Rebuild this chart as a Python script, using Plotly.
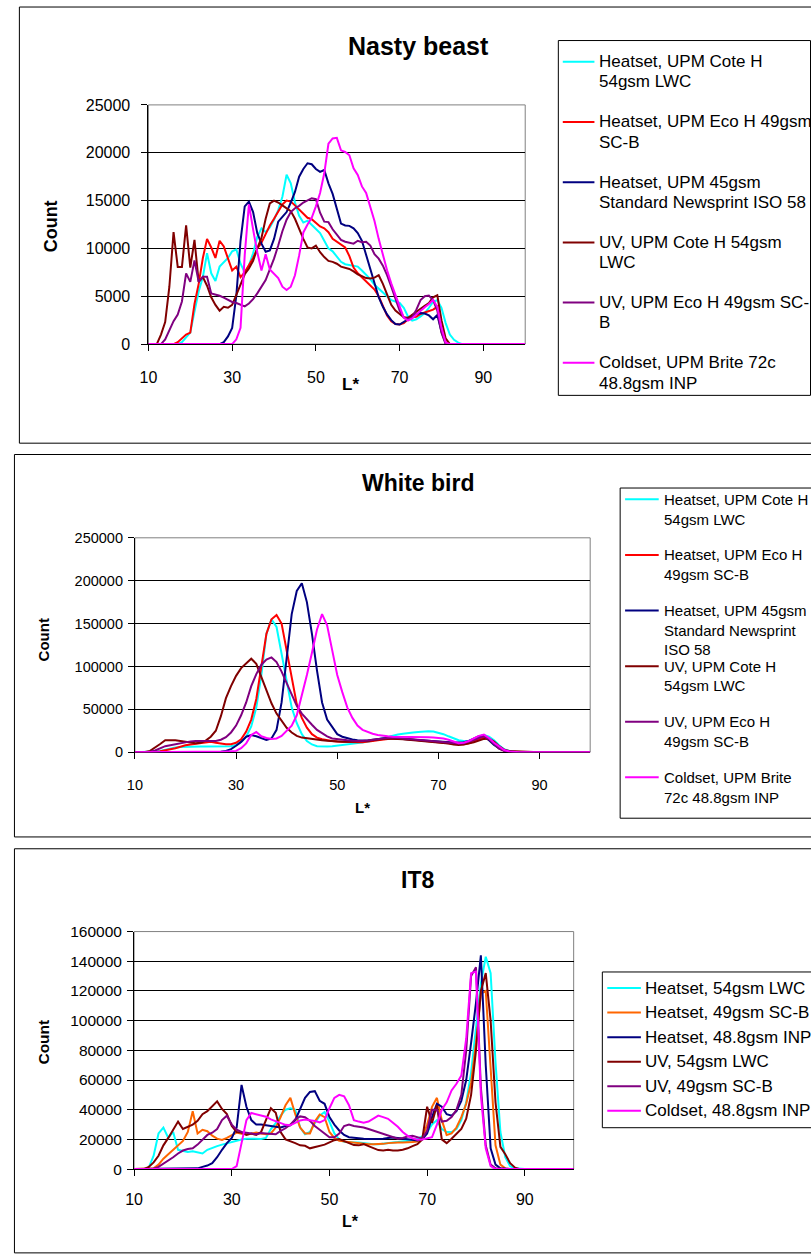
import plotly.graph_objects as go

# ---------------------------------------------------------------------------
# Data: pixel-count histograms of L* (10..100) for three test images
# ---------------------------------------------------------------------------
L_STAR = list(range(10, 101))

SERIES_NAMES_A = [
    "Heatset, UPM Cote H 54gsm LWC",
    "Heatset, UPM Eco H 49gsm SC-B",
    "Heatset, UPM 45gsm Standard Newsprint ISO 58",
    "UV, UPM Cote H 54gsm LWC",
    "UV, UPM Eco H 49gsm SC-B",
    "Coldset, UPM Brite 72c 48.8gsm INP",
]
SERIES_NAMES_IT8 = [
    "Heatset, 54gsm LWC",
    "Heatset, 49gsm SC-B",
    "Heatset, 48.8gsm INP",
    "UV, 54gsm LWC",
    "UV, 49gsm SC-B",
    "Coldset, 48.8gsm INP",
]

# --- Nasty beast -----------------------------------------------------------
nb_heat_cote = [
    0, 0, 0, 0, 0, 0, 0, 0, 200, 700,
    1200, 3400, 5500, 7000, 9500, 7400, 6600, 8100, 8500, 9000,
    9700, 9900, 8400, 7500, 8200, 9500, 11200, 12100, 11700, 12200,
    13000, 14000, 15400, 17700, 16800, 14800, 13400, 12700, 12900, 12500,
    12000, 11600, 10800, 10000, 9700, 9100, 8600, 8350, 8250, 8200,
    8100, 7700, 7300, 6800, 6200, 5800, 5300, 4900, 4600, 4460,
    4300, 3800, 2900, 2450, 2600, 2900, 3250, 3800, 4400, 4600,
    3800, 2200, 1000, 450, 150, 0, 0, 0, 0, 0,
    0, 0, 0, 0, 0, 0, 0, 0, 0, 0,
    0,
]
nb_heat_eco = [
    0, 0, 0, 0, 0, 0, 0, 200, 600, 1000,
    1200, 4200, 6300, 9000, 11000, 10100, 9000, 10800, 10200, 8900,
    7700, 8100, 7000, 7500, 8300, 9000, 10000, 10600, 11500, 12400,
    13100, 13900, 14600, 15000, 14900, 14500, 14100, 13600, 13200, 13050,
    12700, 12300, 12100, 11700, 11000, 10700, 10400, 10100, 9200, 8000,
    7400, 7000, 6600, 6100, 5700, 5000, 4000, 3000, 2400, 2100,
    2060, 2200, 2600, 2800, 2850, 3150, 3300, 3430, 3600, 3900,
    1500, 150, 0, 0, 0, 0, 0, 0, 0, 0,
    0, 0, 0, 0, 0, 0, 0, 0, 0, 0,
    0,
]
nb_heat_news = [
    0, 0, 0, 0, 0, 0, 0, 0, 0, 0,
    0, 0, 0, 0, 0, 0, 0, 0, 200, 800,
    1700, 5100, 10800, 14400, 14900, 13800, 11600, 10500, 9650, 9800,
    11000, 12800, 13300, 13800, 14800, 15900, 17500, 18300, 18900, 18800,
    18300, 18000, 18200, 16800, 15700, 14100, 12600, 12400, 12360, 12100,
    11600, 10800, 9300, 8000, 6300, 4900, 3900, 3100, 2500, 2100,
    2050, 2300, 2600, 3000, 3150, 3250, 3200, 3000, 2600, 3050,
    1300, 100, 0, 0, 0, 0, 0, 0, 0, 0,
    0, 0, 0, 0, 0, 0, 0, 0, 0, 0,
    0,
]
nb_uv_cote = [
    0, 0, 0, 1000, 2300, 6000, 11700, 8070, 8070, 12400,
    8000, 10900, 6500, 7000, 6100, 4900, 4100, 3500, 3900, 3800,
    4100, 5150, 6300, 7300, 7900, 8700, 10000, 11100, 13100, 14700,
    15000, 14800, 14500, 14200, 13900, 13100, 12000, 11000, 10100, 10000,
    10300, 9600, 9100, 8700, 8600, 8400, 8100, 7950, 7850, 7600,
    7300, 7100, 6900, 6870, 6950, 7200, 6300, 5200, 4100, 3500,
    3100, 2800, 2750, 3100, 3450, 3700, 4000, 4300, 4900, 5100,
    2500, 600, 0, 0, 0, 0, 0, 0, 0, 0,
    0, 0, 0, 0, 0, 0, 0, 0, 0, 0,
    0,
]
nb_uv_eco = [
    0, 0, 0, 0, 500, 1400, 2400, 3090, 4460, 7400,
    6500, 8750, 6500, 7040, 7040, 5300, 5200, 5050, 4850, 4600,
    4400, 4290, 4100, 3950, 4250, 4700, 5300, 5950, 6700, 7800,
    8930, 10300, 11800, 13000, 13800, 14200, 14450, 14800, 15050, 15250,
    15150, 13730, 12800, 12750, 12000, 11500, 10900, 10700, 10600, 10500,
    10800, 10650, 10700, 10300, 9400, 8930, 8200, 7200, 6000, 4800,
    3500, 2800, 2600, 2800, 3600, 4600, 5000, 5080, 4600, 3500,
    1200, 0, 0, 0, 0, 0, 0, 0, 0, 0,
    0, 0, 0, 0, 0, 0, 0, 0, 0, 0,
    0,
]
nb_cold_brite = [
    0, 0, 0, 0, 0, 0, 0, 0, 0, 0,
    0, 0, 0, 0, 0, 0, 0, 0, 0, 0,
    0, 500, 1700, 9300, 14600, 12000, 9600, 7700, 9400, 7800,
    7400, 6900, 6000, 5660, 6000, 7200, 9270, 11670, 12500, 13200,
    14400, 15800, 17850, 20940, 21500, 21560, 20250, 20080, 19740, 18370,
    17680, 16480, 15790, 14250, 12870, 11000, 9270, 7720, 6350, 5150,
    3950, 2750, 2470, 2680, 3090, 3500, 3850, 4190, 4635, 3900,
    1700, 170, 0, 0, 0, 0, 0, 0, 0, 0,
    0, 0, 0, 0, 0, 0, 0, 0, 0, 0,
    0,
]

# --- White bird ------------------------------------------------------------
wb_heat_cote = [
    0, 0, 0, 0, 800, 1500, 3000, 4500, 5400, 6000,
    6300, 6500, 6500, 6500, 6500, 6500, 6400, 6500, 6500, 7000,
    8400, 12000, 18000, 30000, 52000, 90000, 138000, 155000, 146000, 115000,
    80000, 52000, 34000, 21000, 13000, 9000, 7000, 6500, 6500, 6800,
    7500, 8200, 8800, 9500, 10200, 11000, 12000, 13500, 15000, 16500,
    18000, 19500, 20500, 21500, 22500, 23000, 23500, 24000, 24500, 24000,
    22500, 21000, 18500, 16000, 14000, 13000, 13000, 15000, 18500, 20000,
    18000, 14000, 8000, 3500, 1500, 500, 0, 0, 0, 0,
    0, 0, 0, 0, 0, 0, 0, 0, 0, 0,
    0,
]
wb_heat_eco = [
    0, 0, 0, 0, 0, 1000, 2500, 3500, 4600, 6500,
    8000, 9000, 10000, 10500, 11500, 12200, 11000, 10000, 9300, 9300,
    11000, 15000, 24000, 38000, 62000, 100000, 138000, 155000, 160000, 150000,
    118000, 84000, 56000, 40000, 28500, 21000, 17000, 15000, 13800, 13000,
    12400, 12000, 11800, 11600, 11500, 11500, 12000, 13000, 14000, 15000,
    15500, 16000, 16000, 15500, 15000, 14500, 14000, 13500, 13000, 12500,
    12000, 11500, 10500, 9500, 9000, 9200, 10500, 12500, 15000, 17000,
    14500, 9000, 4500, 1500, 500, 0, 0, 0, 0, 0,
    0, 0, 0, 0, 0, 0, 0, 0, 0, 0,
    0,
]
wb_heat_news = [
    0, 0, 0, 0, 0, 0, 0, 0, 0, 0,
    0, 0, 0, 0, 0, 0, 0, 500, 1500, 3500,
    7500, 12000, 18000, 20000, 18500, 16000, 14200, 16000, 26000, 58000,
    110000, 161000, 188000, 197000, 175000, 138000, 95000, 58000, 38000, 29000,
    21000, 18000, 16000, 14800, 14000, 13500, 13500, 14500, 15500, 16000,
    16500, 16500, 16000, 15500, 15000, 14500, 14000, 13500, 13000, 12500,
    12000, 11800, 11500, 11300, 11200, 11500, 13000, 15500, 18500, 19500,
    14000, 8500, 4500, 2000, 800, 0, 0, 0, 0, 0,
    0, 0, 0, 0, 0, 0, 0, 0, 0, 0,
    0,
]
wb_uv_cote = [
    0, 0, 300, 1500, 5000, 9500, 14000, 14200, 13800, 13000,
    12000, 11200, 10500, 11000, 13500, 18000, 25000, 42000, 63000, 77000,
    89000, 98000, 104000, 109000, 103000, 88000, 72000, 57000, 45000, 36000,
    28500, 23000, 19000, 17000, 16000, 15000, 14300, 13800, 13300, 12800,
    12300, 12200, 12200, 12200, 12200, 12200, 13000, 14000, 15000, 15500,
    16000, 16000, 15500, 15000, 14500, 14000, 13500, 13000, 12500, 12000,
    11500, 11000, 10000, 9000, 8500, 9000, 10000, 11500, 13500, 15500,
    16000, 12500, 7000, 3000, 1500, 1200, 800, 400, 0, 0,
    0, 0, 0, 0, 0, 0, 0, 0, 0, 0,
    0,
]
wb_uv_eco = [
    0, 0, 0, 600, 2000, 4500, 7000, 8200, 9200, 10500,
    12000, 12600, 13000, 13000, 13000, 13000, 13000, 14500, 17500, 23000,
    31000, 43000, 58000, 77000, 91000, 102000, 108000, 110500, 105000, 94000,
    80000, 67000, 54000, 45000, 38000, 32000, 26000, 21800, 18500, 16000,
    15000, 14300, 13800, 13400, 13000, 13000, 13500, 14500, 15500, 16000,
    16500, 17000, 16500, 16000, 15500, 15000, 14500, 14000, 13500, 13000,
    12500, 12000, 11500, 10500, 10000, 10500, 12000, 14000, 16500, 18500,
    15000, 9000, 4000, 1500, 500, 0, 0, 0, 0, 0,
    0, 0, 0, 0, 0, 0, 0, 0, 0, 0,
    0,
]
wb_cold_brite = [
    0, 0, 0, 0, 0, 0, 0, 0, 0, 0,
    0, 0, 0, 0, 0, 0, 0, 0, 700, 1000,
    1500, 4600, 10300, 20000, 23500, 18500, 16500, 15500, 16000, 19000,
    25000, 31000, 43000, 65000, 90000, 116000, 143000, 161000, 148000, 119000,
    90000, 70000, 52000, 40000, 31000, 26000, 23500, 21500, 20000, 19000,
    18500, 18000, 18000, 18000, 18000, 18000, 18000, 18000, 17500, 17000,
    16500, 16000, 14500, 12500, 10500, 11000, 13000, 16000, 19000, 20500,
    16500, 11000, 6500, 2500, 800, 0, 0, 0, 0, 0,
    0, 0, 0, 0, 0, 0, 0, 0, 0, 0,
    0,
]

# --- IT8 -------------------------------------------------------------------
it8_heat_lwc = [
    0, 0, 0, 1000, 9000, 24000, 28000, 21000, 25000, 13000,
    12000, 11500, 12000, 11000, 10500, 13000, 14500, 15500, 16500, 17500,
    18500, 19500, 20000, 20500, 20500, 20500, 20300, 21000, 27000, 31000,
    36000, 40000, 41000, 40000, 28000, 23500, 25000, 31000, 36000, 38500,
    32000, 24000, 20000, 18500, 18000, 17900, 17900, 17500, 17000, 16800,
    16800, 17000, 17500, 17900, 18200, 18500, 19000, 19500, 20500, 22000,
    25000, 30000, 33000, 27000, 25000, 25000, 27000, 33000, 45000, 65000,
    95000, 125000, 143000, 132000, 72000, 25000, 8000, 2000, 500, 0,
    0, 0, 0, 0, 0, 0, 0, 0, 0, 0,
    0,
]
it8_heat_scb = [
    0, 0, 0, 0, 500, 3000, 7000, 10000, 13000, 16000,
    19000, 25000, 39000, 24000, 26500, 25500, 22500, 20500, 19700, 21000,
    23000, 24600, 23800, 23500, 23800, 24600, 24000, 23500, 24000, 28000,
    35000, 43000, 48000, 37000, 28000, 24000, 24000, 32000, 36800, 35000,
    25000, 21000, 19000, 18600, 18500, 18000, 17200, 16800, 16800, 16800,
    16800, 17000, 17500, 17900, 17900, 17900, 17900, 18200, 18600, 21000,
    30000, 42000, 48000, 33000, 23000, 24000, 28000, 35000, 44000, 58000,
    85000, 118000, 120000, 70000, 16000, 3000, 500, 0, 0, 0,
    0, 0, 0, 0, 0, 0, 0, 0, 0, 0,
    0,
]
it8_heat_inp = [
    0, 0, 0, 0, 0, 0, 0, 0, 0, 0,
    0, 0, 0, 500, 1500, 2400, 4000, 8000, 13000, 17500,
    21000, 28000, 56700, 42000, 33000, 30100, 30100, 29500, 29000, 28500,
    28000, 29000, 29500, 33000, 40000, 48000, 52000, 52500, 46000, 44000,
    35000, 30000, 26000, 23000, 21500, 21000, 20800, 20500, 20300, 20200,
    20200, 20500, 21000, 21300, 21000, 20500, 20200, 19800, 19300, 20000,
    24000, 35000, 44000, 42000, 37000, 36000, 39000, 46000, 60000, 85000,
    112000, 144000, 70000, 14000, 3000, 500, 0, 0, 0, 0,
    0, 0, 0, 0, 0, 0, 0, 0, 0, 0,
    0,
]
it8_uv_lwc = [
    0, 0, 0, 1500, 4500, 9000, 16000, 21000, 27000, 32000,
    27000, 28500, 30000, 32500, 37000, 39000, 42000, 45600, 40500, 37000,
    29000, 25000, 24600, 23000, 24000, 23000, 25000, 33000, 41000, 37900,
    25000, 20000, 19000, 17500, 16000, 15700, 14000, 14800, 15800, 16500,
    18000, 19500, 20200, 19000, 17500, 16200, 16000, 16800, 15500, 14000,
    12800, 12600, 13100, 12600, 12500, 13100, 14000, 15500, 16800, 20000,
    42000, 31000, 43000, 20000, 17500, 20500, 24000, 27000, 34000, 50000,
    80000, 120000, 132000, 100000, 45000, 15000, 10000, 4000, 1000, 0,
    0, 0, 0, 0, 0, 0, 0, 0, 0, 0,
    0,
]
it8_uv_scb = [
    0, 0, 0, 0, 300, 1500, 3500, 5500, 8000, 10500,
    12500, 13500, 14000, 16500, 20000, 23000, 24500, 27000, 33000, 36000,
    30000, 26500, 25000, 24300, 24000, 23500, 24300, 24000, 23500, 23500,
    25700, 27500, 30000, 33500, 35500, 35000, 32500, 29000, 26500, 24000,
    21500, 21500, 24000, 29000, 30000, 29000, 28700, 28000, 27000, 26000,
    25000, 24000, 22500, 21500, 20500, 21000, 22000, 22400, 21500, 20500,
    26000, 40000, 40000, 32000, 32500, 35000, 40000, 50000, 80000, 130000,
    136000, 55000, 16000, 3000, 500, 0, 0, 0, 0, 0,
    0, 0, 0, 0, 0, 0, 0, 0, 0, 0,
    0,
]
it8_cold_inp = [
    0, 0, 0, 0, 0, 0, 0, 0, 0, 0,
    0, 0, 0, 0, 0, 0, 0, 0, 0, 0,
    0, 2000, 18000, 33000, 37800, 36800, 36300, 35300, 33500, 32300,
    31000, 29800, 29500, 31000, 32800, 33400, 33000, 32400, 31500, 33000,
    41000, 48000, 50000, 49000, 43000, 33000, 32000, 31200, 32000, 34000,
    36000, 35000, 33900, 31200, 28500, 25000, 22400, 20800, 19800, 20000,
    20500, 21500, 30000, 40000, 45000, 53000, 57500, 63000, 88000, 132000,
    133000, 50000, 14000, 2000, 0, 0, 0, 0, 0, 0,
    0, 0, 0, 0, 0, 0, 0, 0, 0, 0,
    0,
]

NB_SERIES = [nb_heat_cote, nb_heat_eco, nb_heat_news, nb_uv_cote, nb_uv_eco, nb_cold_brite]
WB_SERIES = [wb_heat_cote, wb_heat_eco, wb_heat_news, wb_uv_cote, wb_uv_eco, wb_cold_brite]
IT8_SERIES = [it8_heat_lwc, it8_heat_scb, it8_heat_inp, it8_uv_lwc, it8_uv_scb, it8_cold_inp]

COLORS_A = ["#00FFFF", "#FF0000", "#000080", "#800000", "#800080", "#FF00FF"]
COLORS_IT8 = ["#00FFFF", "#FF6600", "#000080", "#800000", "#800080", "#FF00FF"]

# Legend wording, wrapped the way each legend box shows it
LEGEND_NB = [
    ["Heatset, UPM Cote H", "54gsm LWC"],
    ["Heatset, UPM Eco H 49gsm", "SC-B"],
    ["Heatset, UPM 45gsm", "Standard Newsprint ISO 58"],
    ["UV, UPM Cote H 54gsm", "LWC"],
    ["UV, UPM Eco H 49gsm SC-", "B"],
    ["Coldset, UPM Brite 72c", "48.8gsm INP"],
]
LEGEND_WB = [
    ["Heatset, UPM Cote H", "54gsm LWC"],
    ["Heatset, UPM Eco H", "49gsm SC-B"],
    ["Heatset, UPM 45gsm", "Standard Newsprint", "ISO 58"],
    ["UV, UPM Cote H", "54gsm LWC"],
    ["UV, UPM Eco H", "49gsm SC-B"],
    ["Coldset, UPM Brite", "72c 48.8gsm INP"],
]
LEGEND_IT8 = [[n] for n in SERIES_NAMES_IT8]

# ---------------------------------------------------------------------------
# Layout helpers (pixel -> paper coordinates on an 811 x 1254 page)
# ---------------------------------------------------------------------------
W, H = 811, 1254
FONT = "Liberation Sans, Arial, sans-serif"


def fx(x):
    return x / W


def fy(y):
    return 1 - y / H


fig = go.Figure()

panels = [
    dict(series=NB_SERIES, names=SERIES_NAMES_A, colors=COLORS_A, xa="x", ya="y"),
    dict(series=WB_SERIES, names=SERIES_NAMES_A, colors=COLORS_A, xa="x2", ya="y2"),
    dict(series=IT8_SERIES, names=SERIES_NAMES_IT8, colors=COLORS_IT8, xa="x3", ya="y3"),
]
for p in panels:
    for vals, name, col in zip(p["series"], p["names"], p["colors"]):
        fig.add_trace(go.Scatter(
            x=L_STAR, y=vals, name=name, mode="lines",
            line=dict(color=col, width=2), xaxis=p["xa"], yaxis=p["ya"],
            showlegend=False, hoverinfo="skip",
        ))


def x_axis(left, right, anchor, size, standoff):
    return dict(
        domain=[fx(left), fx(right)], anchor=anchor, range=[10, 100],
        tickmode="linear", tick0=10, dtick=20,
        ticks="outside", ticklen=6, tickwidth=1, tickcolor="black",
        showline=True, linecolor="black", linewidth=1,
        showgrid=False, zeroline=False, layer="below traces",
        tickfont=dict(family=FONT, size=size, color="black"),
        ticklabelstandoff=standoff, fixedrange=True,
    )


def y_axis(bottom, top, anchor, ymax, step, size, standoff):
    return dict(
        domain=[fy(bottom), fy(top)], anchor=anchor, range=[0, ymax],
        tickmode="linear", tick0=0, dtick=step, tickformat="d",
        ticks="outside", ticklen=6, tickwidth=1, tickcolor="black",
        showline=True, linecolor="black", linewidth=1,
        showgrid=True, gridcolor="black", gridwidth=1,
        zeroline=False, layer="below traces",
        tickfont=dict(family=FONT, size=size, color="black"),
        ticklabelstandoff=standoff, fixedrange=True,
    )


fig.update_layout(
    width=W, height=H, margin=dict(l=0, r=0, t=0, b=0),
    paper_bgcolor="white", plot_bgcolor="white", showlegend=False,
    xaxis=x_axis(141, 522, "y", 16, 13),
    yaxis=y_axis(340, 97.3, "x", 25000, 5000, 16, 8),
    xaxis2=x_axis(127.3, 587.7, "y2", 14.5, 13),
    yaxis2=y_axis(754, 536.5, "x2", 250000, 50000, 14.5, 2),
    xaxis3=x_axis(126.5, 571, "y3", 16, 10),
    yaxis3=y_axis(1177, 936, "x3", 160000, 20000, 15.5, 2),
)

shapes = []
annotations = []


def box(x0, y0, x1, y1, color="black", width=1):
    shapes.append(dict(type="rect", xref="paper", yref="paper",
                       x0=fx(x0), x1=fx(x1), y0=fy(y1), y1=fy(y0),
                       line=dict(color=color, width=width), fillcolor="rgba(0,0,0,0)",
                       layer="above"))


def text(x, y, s, size, bold=False, xanchor="center", angle=0):
    annotations.append(dict(
        xref="paper", yref="paper", x=fx(x), y=fy(y), text=f"<b>{s}</b>" if bold else s,
        showarrow=False, xanchor=xanchor, yanchor="middle", textangle=angle,
        font=dict(family=FONT, size=size, color="black"),
    ))


# Chart frames
box(10.5, -2, 825, 440.5)
box(5.5, 452, 825, 840)
box(5.5, 852, 825, 1262)

# Plot-area outlines (grey, behind the data)
for xr, yr in (("x", "y"), ("x2", "y2"), ("x3", "y3")):
    shapes.append(dict(type="rect", xref=f"{xr} domain", yref=f"{yr} domain",
                       x0=0, x1=1, y0=0, y1=1, line=dict(color="#808080", width=1),
                       layer="below"))

# Titles and axis titles
text(414, 38, "Nasty beast", 25, bold=True)
text(414, 481, "White bird", 23, bold=True)
text(413, 884, "IT8", 23, bold=True)
text(42, 221, "Count", 18, bold=True, angle=-90)
text(35, 640, "Count", 15, bold=True, angle=-90)
text(35, 1048, "Count", 15.5, bold=True, angle=-90)
text(345, 381, "L*", 17, bold=True)
text(357, 810, "L*", 15, bold=True)
text(345, 1230, "L*", 16, bold=True)


def legend(entries, colors, left, top, right, bottom, line_x0, line_x1, text_x,
           first_y, item_step, line_step, size):
    box(left, top, right, bottom)
    for i, (lines, col) in enumerate(zip(entries, colors)):
        y0 = first_y + i * item_step
        shapes.append(dict(type="line", xref="paper", yref="paper",
                           x0=fx(line_x0), x1=fx(line_x1), y0=fy(y0), y1=fy(y0),
                           line=dict(color=col, width=2), layer="above"))
        for j, s in enumerate(lines):
            text(text_x, y0 + j * line_step, s, size, xanchor="left")


legend(LEGEND_NB, COLORS_A, 555.5, 32, 810.5, 392, 560, 592, 595, 53.5, 61.1, 20.5, 17)
legend(LEGEND_WB, COLORS_A, 618, 486, 825, 821, 623, 657, 660, 497.5, 56.4, 20, 15)
legend(LEGEND_IT8, COLORS_IT8, 600, 977, 825, 1135, 605, 639, 641, 993.3, 24.9, 0, 17)

fig.update_layout(shapes=shapes, annotations=annotations)
fig.write_html("out.html")
